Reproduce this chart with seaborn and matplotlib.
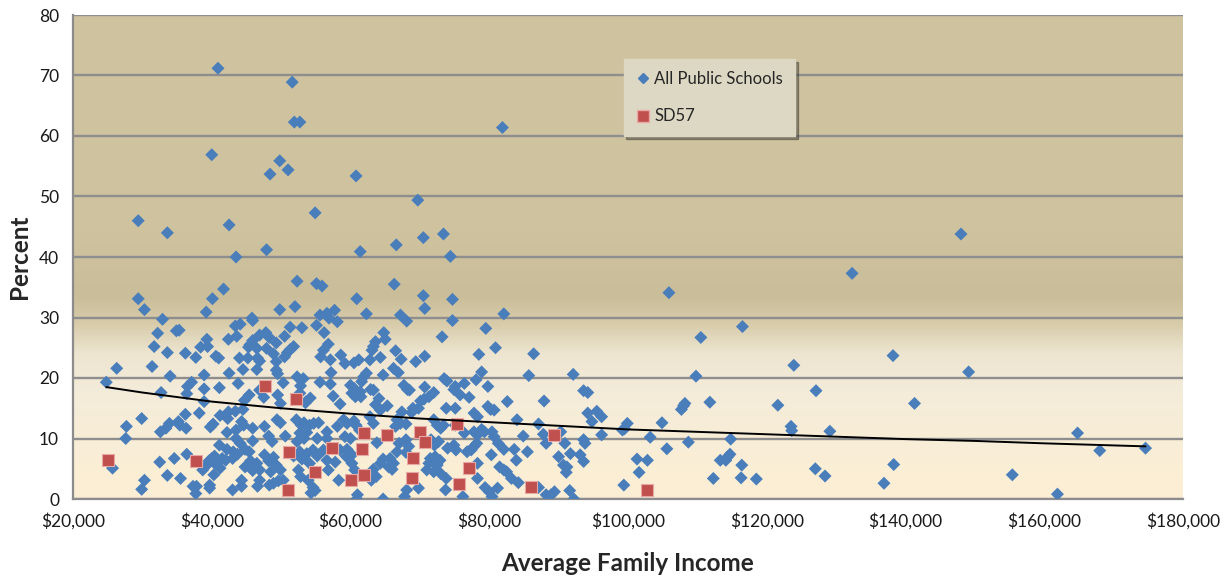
import numpy as np
import pandas as pd
import seaborn as sns
import matplotlib.pyplot as plt
from matplotlib.colors import LinearSegmentedColormap
from matplotlib.ticker import FuncFormatter, MultipleLocator
from matplotlib.lines import Line2D

# Average family income (thousands of $) and percent
school_income = [
    43.5, 47.9, 52.3, 55.1, 55.9, 41.7, 29.4, 40.1, 30.3, 49.8, 52.0, 39.2, 55.6, 56.6, 57.7, 56.9, 58.1, 32.9,
    45.8, 45.9, 44.1, 43.4, 51.3, 53.0, 55.1, 32.2, 34.9, 35.3, 47.8, 46.9, 56.2, 39.3, 42.4, 43.6, 45.9, 45.5,
    45.3, 48.3, 49.3, 50.5, 51.8, 51.3, 50.9, 50.5, 31.7, 38.4, 39.4, 33.6, 36.2, 37.7, 40.6, 41.0, 46.5, 47.9,
    44.0, 45.2, 46.6, 46.9, 48.9, 49.3, 55.7, 56.1, 56.8, 57.1, 58.6, 59.2, 26.3, 31.4, 44.5, 46.5, 49.3, 49.5,
    57.2, 34.0, 38.9, 42.5, 52.3, 53.2, 24.8, 37.1, 36.5, 36.4, 43.8, 50.3, 52.8, 55.6, 57.1, 38.9, 41.1, 32.7,
    45.4, 46.9, 47.5, 49.5, 52.7, 53.5, 54.2, 57.5, 58.5, 38.9, 44.7, 49.9, 53.6, 42.4, 43.4, 44.5, 38.2, 36.2,
    41.2, 42.3, 29.9, 27.7, 27.6, 32.6, 33.4, 33.9, 35.2, 35.4, 36.3, 40.2, 39.8, 43.5, 44.3, 44.6, 45.9, 47.6,
    49.4, 49.9, 52.2, 52.9, 53.3, 54.1, 54.7, 55.4, 53.7, 56.6, 58.1, 59.0, 42.2, 43.5, 44.1, 45.9, 48.2, 48.7,
    50.6, 52.7, 52.3, 53.3, 55.2, 56.6, 59.2, 41.1, 42.2, 43.1, 43.7, 43.0, 40.0, 40.4, 39.6, 39.2, 38.7, 41.5,
    42.0, 40.5, 41.2, 40.3, 44.8, 45.4, 45.6, 44.8, 45.9, 46.5, 46.9, 47.6, 48.2, 48.9, 49.3, 49.9, 48.5, 51.8,
    52.7, 53.0, 53.7, 54.6, 55.2, 54.1, 52.5, 52.8, 56.1, 56.6, 57.8, 56.8, 58.5, 59.5, 59.4, 32.5, 34.6, 36.4,
    33.6, 35.5, 30.3, 29.9, 25.7, 37.3, 37.8, 37.7, 39.7, 39.7, 43.0, 44.3, 44.3, 46.6, 46.9, 48.3, 48.9, 49.6,
    50.3, 53.9, 54.6, 54.9, 54.3, 58.3,
    61.4, 74.4, 66.3, 60.9, 70.5, 74.7, 62.3, 67.2, 68.1, 70.7, 74.7, 82.1, 79.5, 64.8, 65.0, 63.6, 63.3, 63.1,
    73.2, 80.9, 78.5, 86.4, 66.5, 67.3, 64.3, 62.8, 61.2, 60.5, 69.4, 70.7, 66.2, 66.9, 64.7, 62.3, 61.9, 61.6,
    73.5, 73.9, 78.1, 78.9, 85.7, 92.1, 67.7, 68.2, 68.5, 70.7, 75.1, 74.9, 76.4, 79.8, 60.0, 60.5, 60.2, 60.7,
    61.4, 61.5, 62.9, 63.3, 64.1, 75.8, 77.1, 71.3, 72.0, 70.6, 70.1, 69.8, 69.0, 68.8, 82.6, 87.9, 93.6, 94.2,
    79.8, 80.2, 80.7, 65.3, 67.4, 63.6, 64.3, 62.8, 73.8, 75.1, 77.8, 78.3, 94.2, 95.5, 96.2, 84.0, 87.1, 94.8,
    59.5, 60.5, 60.8, 61.3, 63.3, 66.7, 67.2, 66.5, 68.0, 72.0, 72.5, 73.0, 73.4, 75.1, 76.4, 77.8, 78.3, 78.9,
    79.3, 80.4, 80.7, 84.9, 87.8, 88.2, 90.3, 90.9, 96.2, 93.6, 93.8, 60.0, 59.5, 60.2, 63.8, 67.0, 66.7, 65.7,
    68.0, 68.4, 68.0, 66.2, 65.5, 66.0, 64.7, 64.3, 63.3, 63.7, 63.0, 60.2, 60.6, 71.6, 72.1, 72.7, 71.5, 72.2,
    72.9, 71.3, 72.5, 74.0, 74.9, 75.2, 71.0, 72.0, 73.0, 73.8, 76.8, 77.4, 77.8, 78.2, 78.3, 78.3, 80.3, 81.3,
    82.1, 83.6, 83.9, 85.5, 81.5, 82.1, 82.5, 83.2, 84.2, 90.0, 90.7, 91.2, 91.1, 91.7, 93.1, 93.6, 87.1, 88.2,
    88.9, 89.4, 91.6, 92.2, 68.1, 67.8, 64.7, 61.0, 60.9, 69.8, 76.2, 79.4, 80.0, 80.4, 81.2, 73.7,
    132.3, 105.9, 116.5, 110.5, 138.2, 123.9, 149.1, 109.8, 127.1, 111.8, 141.3, 121.6, 107.7, 108.0, 108.2,
    104.9, 99.9, 99.2, 99.5, 123.5, 123.6, 129.1, 164.8, 103.2, 114.8, 108.7, 174.6, 105.6, 168.0, 114.7, 114.4,
    114.1, 113.3, 101.3, 102.8, 116.4, 138.3, 101.6, 127.0, 128.4, 155.4, 112.3, 116.3, 118.5, 99.4, 136.9,
    161.9,
    40.9, 51.6, 51.9, 52.7, 40.0, 49.8, 51.0, 48.4, 60.8, 54.9, 29.4, 33.6, 42.5, 81.9, 69.7, 66.6, 70.5, 73.4,
    148.0,
]
school_pct = [
    40.0, 41.2, 36.0, 35.6, 35.2, 34.7, 33.1, 33.1, 31.3, 31.3, 31.8, 30.9, 30.4, 30.7, 31.2, 29.9, 29.3, 29.7,
    29.9, 29.5, 28.9, 28.6, 28.4, 28.3, 28.7, 27.4, 27.8, 27.9, 27.5, 27.1, 27.5, 26.4, 26.4, 26.9, 26.2, 25.5,
    25.1, 26.7, 25.8, 26.9, 25.2, 24.7, 24.2, 23.5, 25.2, 25.1, 25.2, 24.2, 24.1, 23.4, 23.6, 23.3, 24.9, 24.9,
    23.3, 23.3, 23.3, 22.8, 24.0, 22.7, 23.5, 24.6, 25.6, 23.0, 23.8, 22.4, 21.6, 21.9, 21.4, 21.4, 21.3, 20.7,
    20.9, 20.3, 20.5, 20.8, 20.2, 19.9, 19.3, 19.3, 18.6, 17.4, 19.1, 19.2, 18.7, 19.3, 19.0, 18.2, 18.4, 17.6,
    17.2, 18.0, 16.8, 17.2, 17.5, 15.9, 16.7, 17.0, 15.7, 16.1, 16.3, 15.8, 16.1, 14.4, 14.5, 14.8, 14.2, 14.0,
    13.8, 13.3, 13.3, 12.0, 10.0, 11.1, 11.7, 12.5, 12.8, 12.2, 11.7, 12.4, 11.9, 11.4, 12.8, 12.2, 11.7, 12.0,
    13.1, 12.6, 13.1, 12.2, 12.6, 12.2, 12.5, 12.6, 11.0, 11.1, 12.0, 13.1, 11.0, 10.0, 9.2, 9.6, 10.4, 9.5,
    10.4, 10.9, 9.5, 10.0, 10.0, 10.0, 10.3, 8.9, 8.2, 7.8, 7.4, 6.7, 6.7, 7.1, 6.3, 5.5, 4.8, 6.7,
    6.4, 5.8, 5.1, 4.0, 8.2, 7.8, 6.3, 5.3, 4.7, 5.9, 4.8, 7.3, 6.3, 6.9, 5.6, 4.8, 4.5, 7.1,
    7.8, 6.6, 7.5, 8.1, 7.1, 5.9, 4.8, 3.7, 8.1, 6.4, 6.1, 4.8, 8.1, 8.2, 7.0, 6.1, 6.7, 7.4,
    3.9, 3.4, 3.1, 1.6, 5.1, 2.1, 2.1, 0.9, 2.3, 1.8, 1.5, 3.1, 2.1, 2.1, 3.1, 2.3, 2.6, 3.0,
    3.1, 3.1, 1.9, 1.4, 1.0, 3.1,
    40.9, 40.1, 35.5, 33.1, 33.6, 33.0, 30.6, 30.4, 29.4, 31.5, 29.5, 30.6, 28.2, 27.5, 26.4, 26.0, 25.2, 24.6,
    26.8, 25.0, 23.9, 24.0, 24.5, 23.1, 23.4, 23.0, 23.0, 22.5, 22.7, 23.6, 21.6, 20.9, 20.5, 20.8, 20.2, 19.4,
    19.9, 19.5, 19.7, 21.0, 20.4, 20.6, 18.8, 18.1, 18.0, 18.5, 18.6, 18.1, 19.1, 18.6, 18.8, 18.3, 17.5, 16.9,
    17.7, 16.9, 18.1, 18.0, 16.6, 17.2, 16.8, 16.9, 17.6, 16.5, 16.2, 15.0, 15.0, 14.3, 16.1, 16.2, 17.9, 17.6,
    15.3, 14.8, 14.7, 15.4, 14.4, 15.6, 14.7, 13.6, 15.0, 15.0, 14.2, 13.6, 14.2, 14.5, 13.6, 13.1, 12.4, 12.8,
    12.5, 12.9, 12.2, 11.4, 12.5, 13.1, 12.5, 12.0, 12.4, 13.1, 12.2, 11.7, 12.2, 12.2, 10.9, 11.1, 10.6, 11.5,
    11.1, 11.1, 10.3, 10.4, 10.7, 9.2, 11.1, 9.2, 10.6, 9.8, 9.2, 10.0, 8.1, 7.3, 9.3, 9.2, 7.8, 6.7,
    9.8, 8.7, 7.7, 5.9, 5.3, 4.9, 6.6, 5.9, 4.9, 3.7, 3.1, 5.9, 4.8, 9.8, 8.9, 9.5, 6.7, 7.0,
    6.4, 5.9, 5.6, 8.4, 8.9, 8.1, 4.8, 4.5, 4.2, 3.4, 7.8, 8.1, 8.7, 9.2, 5.9, 3.4, 7.3, 9.2,
    8.2, 8.2, 6.4, 7.8, 5.3, 4.8, 4.5, 3.4, 2.7, 7.0, 5.6, 5.3, 4.4, 7.5, 7.3, 6.2, 1.9, 0.7,
    0.7, 1.2, 1.4, 0.0, 1.5, 0.4, 0.0, 0.7, 0.0, 1.8, 0.4, 1.9, 1.2, 0.4, 1.8, 1.5,
    37.3, 34.1, 28.5, 26.7, 23.7, 22.1, 21.0, 20.3, 17.9, 16.0, 15.8, 15.5, 14.8, 15.4, 15.8,
    12.6, 12.5, 11.4, 11.6, 12.0, 11.3, 11.2, 10.9, 10.2, 9.9, 9.4, 8.4, 8.3, 8.0, 7.4, 7.0,
    6.4, 6.4, 6.6, 6.4, 5.6, 5.7, 4.4, 5.0, 3.8, 4.0, 3.4, 3.5, 3.3, 2.3, 2.6,
    0.8,
    71.2, 68.9, 62.3, 62.3, 56.9, 55.9, 54.4, 53.7, 53.4, 47.3, 46.0, 44.0, 45.3, 61.4, 49.4, 42.0, 43.2, 43.8,
    43.8,
]

sd57_income = [25.1, 37.8, 47.7, 52.2, 51.1, 51.0, 54.9, 57.3, 60.1, 61.6, 62.0, 65.2, 70.0, 70.7, 69.0,
               62.0, 68.9, 75.4, 77.1, 75.6, 89.4, 86.0, 102.7]
sd57_pct = [6.4, 6.2, 18.6, 16.5, 7.7, 1.5, 4.4, 8.4, 3.1, 8.3, 10.9, 10.6, 11.1, 9.5, 6.7,
            3.9, 3.4, 12.4, 5.1, 2.5, 10.5, 2.0, 1.5]

# log trendline as drawn on the chart
trend_income = [24.8, 30, 40, 50, 60, 70, 80, 90, 100, 110, 120, 130, 140, 150, 160, 174.6]
trend_pct = [18.5, 17.6, 16.1, 15.0, 14.1, 13.3, 12.7, 12.1, 11.5, 11.1, 10.7, 10.3, 9.9, 9.6, 9.2, 8.7]

schools = pd.DataFrame({"income": school_income, "pct": school_pct})
sd57 = pd.DataFrame({"income": sd57_income, "pct": sd57_pct})
trend = pd.DataFrame({"income": trend_income, "pct": trend_pct})

sns.set_style("white")
plt.rcParams['font.family'] = ['Lato', 'DejaVu Sans']

fig = plt.figure(figsize=(12.24, 5.83), dpi=100)
ax = fig.add_axes([73 / 1224, 1 - 499 / 583, 1110 / 1224, 484 / 583])

# gradient background of the plot area
bg = LinearSegmentedColormap.from_list("bg", [
    (0.0, "#FDEFD4"), (0.22, "#F4ECDA"), (0.30, "#EDE5D0"),
    (0.36, "#D8CCAB"), (0.42, "#CABD99"), (0.55, "#CFC29F"), (1.0, "#D0C3A0")])
grad = np.linspace(0, 1, 256).reshape(-1, 1)
ax.imshow(grad, cmap=bg, origin="lower", extent=[20, 180, 0, 80], aspect="auto", zorder=0)

ax.set_xlim(20, 180)
ax.set_ylim(0, 80)
ax.yaxis.set_major_locator(MultipleLocator(10))
ax.xaxis.set_major_locator(MultipleLocator(20))
ax.yaxis.grid(True, color="#8E8E8E", linewidth=1.7, zorder=1)
ax.set_axisbelow(False)

sns.scatterplot(data=schools, x="income", y="pct", marker="D", s=44, color="#4A7EBB",
                edgecolor="none", linewidth=0, ax=ax, zorder=3)
sns.scatterplot(data=sd57, x="income", y="pct", marker="s", s=72, color="#C0504D",
                edgecolor="#E8A8A6", linewidth=0.8, ax=ax, zorder=4)
sns.lineplot(data=trend, x="income", y="pct", color="black", linewidth=1.4, ax=ax, zorder=5)

ax.set_xlim(20, 180)
ax.set_ylim(0, 80)

for side in ["top", "right"]:
    ax.spines[side].set_visible(False)
for side in ["left", "bottom"]:
    ax.spines[side].set_color("#8C8C8C")
    ax.spines[side].set_linewidth(1.6)
ax.tick_params(axis="both", direction="out", length=6, width=1.4, color="#8C8C8C",
               labelsize=12.5, labelcolor="#1A1A1A", pad=4)
ax.xaxis.set_major_formatter(FuncFormatter(lambda v, p: f"${v * 1000:,.0f}"))

ax.set_xlabel("Average Family Income", fontsize=17.5, fontweight="bold", labelpad=16)
ax.set_ylabel("Percent", fontsize=17.5, fontweight="bold", labelpad=6)

handles = [
    Line2D([], [], marker="D", linestyle="none", color="#4A7EBB", markersize=5),
    Line2D([], [], marker="s", linestyle="none", color="#C0504D", markersize=9,
           markeredgecolor="#E8A8A6"),
]
leg = ax.legend(handles, ["All Public Schools", "SD57"], loc="upper left",
                bbox_to_anchor=(0.496, 0.909), borderaxespad=0, frameon=True, fancybox=False,
                shadow=True, facecolor="#DDD8C3", edgecolor="#DDD8C3", framealpha=1,
                fontsize=12, labelspacing=1.3, handletextpad=0.25, handlelength=0.9,
                borderpad=0.7)
leg.set_zorder(6)

plt.savefig("out.png", dpi=100)
